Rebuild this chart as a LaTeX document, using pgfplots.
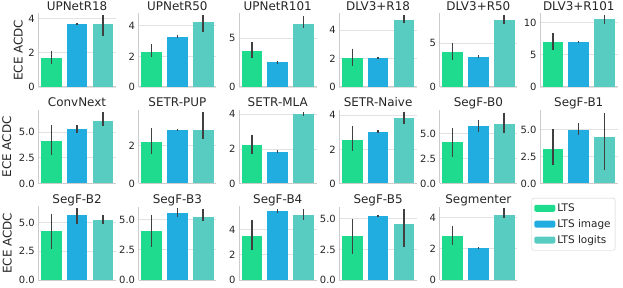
\documentclass[border=0pt]{standalone}
\usepackage{pgfplots}
\pgfplotsset{compat=1.18}
\usepackage{fontspec}
\setmainfont{DejaVu Sans}
\definecolor{cA}{HTML}{1FDB8E}
\definecolor{cB}{HTML}{21ADDF}
\definecolor{cC}{HTML}{58CCC0}
\definecolor{errc}{HTML}{404040}
\definecolor{spinec}{HTML}{CCCCCC}
\definecolor{gridc}{HTML}{E2E2E2}
\definecolor{txtc}{HTML}{262626}
\pgfplotsset{
  panel/.style={
    scale only axis, width=77.5bp, height=73.5bp, anchor=south west,
    xmin=-0.5, xmax=2.5, ymin=0,
    axis x line*=bottom, axis y line*=left,
    axis line style={-, draw=spinec, line width=1bp},
    xtick=\empty, major tick length=0pt,
    ymajorgrids, grid style={draw=gridc, line width=0.8bp},
    tick label style={font=\fontsize{10}{12}\selectfont, text=txtc},
    /pgf/number format/assume math mode=true,
    every axis title/.style={font=\fontsize{12}{14}\selectfont, text=txtc, at={(axis description cs:0.5,1)}, anchor=base, yshift=3bp},
    clip=false,
    error bars/y dir=both, error bars/y explicit,
    error bars/error mark=none,
    error bars/error bar style={line width=1.4bp, draw=errc},
  },
  ylab/.style={ylabel={ECE ACDC}, every axis y label/.style={at={(axis description cs:0,0.5)}, xshift=#1, rotate=90, anchor=center, font=\fontsize{12}{14}\selectfont, text=txtc}},
  bars/.style={ybar, bar width=0.8, bar shift=0pt, fill=#1, draw=none},
}
\newcommand{\panel}[8]{%
\begin{axis}[panel, #1, title={#2}, ymax=#3, ytick={#4}, yticklabels={#5}]
\addplot[bars=cA] coordinates {#6};
\addplot[bars=cB] coordinates {#7};
\addplot[bars=cC] coordinates {#8};
\end{axis}}
\begin{document}
\begin{tikzpicture}
\useasboundingbox (0bp,0bp) rectangle (623bp,288bp);
% Row 1
\panel{at={(38.3bp,201bp)}, ylab=-20bp}{UPNetR18}{4.3}{0,2,4}{0,2,4}
 {(0,1.68) += (0,0.45) -= (0,0.33)}{(1,3.67) += (0,0.08) -= (0,0.06)}{(2,3.67) += (0,0.52) -= (0,0.69)}
\panel{at={(138.6bp,201bp)}}{UPNetR50}{4.8}{0,2,4}{0,2,4}
 {(0,2.31) += (0,0.50) -= (0,0.36)}{(1,3.29) += (0,0.08) -= (0,0.07)}{(2,4.22) += (0,0.47) -= (0,0.61)}
\panel{at={(239bp,201bp)}}{UPNetR101}{7.55}{0,5}{0,5}
 {(0,3.74) += (0,0.92) -= (0,0.78)}{(1,2.52) += (0,0.13) -= (0,0.11)}{(2,6.43) += (0,0.85) -= (0,0.41)}
\panel{at={(339.3bp,201bp)}}{DLV3+R18}{5.16}{0,2,4}{0,2,4}
 {(0,2.07) += (0,0.63) -= (0,0.58)}{(1,2.07) += (0,0.07) -= (0,0.07)}{(2,4.70) += (0,0.35) -= (0,0.19)}
\panel{at={(439.6bp,201bp)}}{DLV3+R50}{8.41}{0,5}{0,5}
 {(0,3.98) += (0,1.02) -= (0,0.88)}{(1,3.48) += (0,0.19) -= (0,0.11)}{(2,7.65) += (0,0.55) -= (0,0.45)}
\panel{at={(540bp,201bp)}}{DLV3+R101}{11.38}{0,5,10}{0,5,10}
 {(0,6.97) += (0,1.43) -= (0,1.23)}{(1,6.92) += (0,0.21) -= (0,0.15)}{(2,10.46) += (0,0.64) -= (0,0.72)}
% Row 2
\panel{at={(38.3bp,104.5bp)}, ylab=-31.5bp}{ConvNext}{7.16}{0,2.5,5}{0.0,2.5,5.0}
 {(0,4.12) += (0,1.54) -= (0,1.34)}{(1,5.33) += (0,0.33) -= (0,0.43)}{(2,6.08) += (0,0.88) -= (0,0.49)}
\panel{at={(138.6bp,104.5bp)}}{SETR-PUP}{3.88}{0,2}{0,2}
 {(0,2.18) += (0,0.76) -= (0,0.62)}{(1,2.85) += (0,0.05) -= (0,0.04)}{(2,2.85) += (0,0.92) -= (0,0.50)}
\panel{at={(239bp,104.5bp)}}{SETR-MLA}{4.25}{0,2,4}{0,2,4}
 {(0,2.23) += (0,0.60) -= (0,0.52)}{(1,1.84) += (0,0.08) -= (0,0.07)}{(2,4.00) += (0,0.14) -= (0,0.12)}
\panel{at={(339.3bp,104.5bp)}}{SETR-Naive}{4.31}{0,2,4}{0,2,4}
 {(0,2.58) += (0,0.77) -= (0,0.69)}{(1,3.03) += (0,0.08) -= (0,0.05)}{(2,3.86) += (0,0.34) -= (0,0.36)}
\panel{at={(439.6bp,104.5bp)}}{SegF-B0}{7.4}{0,2.5,5}{0.0,2.5,5.0}
 {(0,4.16) += (0,1.41) -= (0,1.52)}{(1,5.78) += (0,0.64) -= (0,0.58)}{(2,6.01) += (0,1.12) -= (0,0.94)}
\panel{at={(540bp,104.5bp)}}{SegF-B1}{6.84}{0,2.5,5}{0.0,2.5,5.0}
 {(0,3.22) += (0,1.87) -= (0,1.47)}{(1,5.00) += (0,0.66) -= (0,0.53)}{(2,4.31) += (0,2.28) -= (0,3.06)}
% Row 3
\panel{at={(38.3bp,8bp)}, ylab=-31bp}{SegF-B2}{6.4}{0,2.5,5}{0.0,2.5,5.0}
 {(0,4.24) += (0,1.55) -= (0,1.52)}{(1,5.64) += (0,0.65) -= (0,0.73)}{(2,5.20) += (0,0.50) -= (0,0.35)}
\panel{at={(138.6bp,8bp)}}{SegF-B3}{6.1}{0,2.5,5}{0.0,2.5,5.0}
 {(0,4.09) += (0,1.32) -= (0,1.38)}{(1,5.52) += (0,0.42) -= (0,0.33)}{(2,5.25) += (0,0.63) -= (0,0.33)}
\panel{at={(239bp,8bp)}}{SegF-B4}{5.85}{0,2,4}{0,2,4}
 {(0,3.49) += (0,1.31) -= (0,1.14)}{(1,5.47) += (0,0.16) -= (0,0.11)}{(2,5.15) += (0,0.53) -= (0,0.38)}
\panel{at={(339.3bp,8bp)}}{SegF-B5}{6.0}{0,2.5,5}{0.0,2.5,5.0}
 {(0,3.58) += (0,1.42) -= (0,1.45)}{(1,5.22) += (0,0.08) -= (0,0.08)}{(2,4.59) += (0,1.23) -= (0,1.91)}
\begin{axis}[panel, at={(439.6bp,8bp)}, title={Segmenter}, ymax=4.7, ytick={0,2,4}, yticklabels={0,2,4},
  legend cell align=left,
  legend image code/.code={\fill[#1] (0bp,-3.5bp) rectangle (21bp,3.5bp);},
  legend style={at={(axis description cs:1.187,1.116)}, anchor=north west, draw=spinec, rounded corners=2bp,
    font=\fontsize{10.5}{12}\selectfont, text=txtc, inner xsep=2.5bp, inner ysep=3.5bp, row sep=2.5bp}]
\addplot[bars=cA] coordinates {(0,2.80) += (0,0.66) -= (0,0.58)};
\addlegendentry{LTS}
\addplot[bars=cB] coordinates {(1,2.04) += (0,0.09) -= (0,0.06)};
\addlegendentry{LTS image}
\addplot[bars=cC] coordinates {(2,4.15) += (0,0.43) -= (0,0.21)};
\addlegendentry{LTS logits}
\end{axis}
\end{tikzpicture}
\end{document}
